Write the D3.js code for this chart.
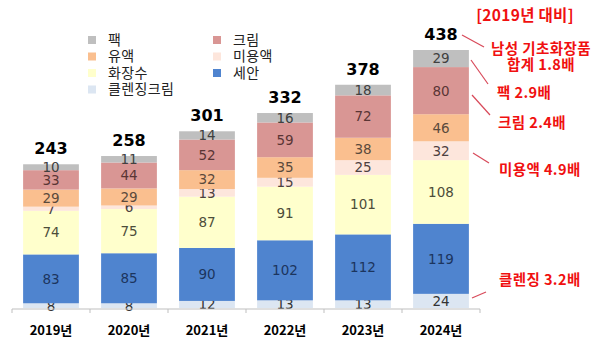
<!DOCTYPE html>
<html><head><meta charset="utf-8">
<script src="https://cdn.jsdelivr.net/npm/d3@7/dist/d3.min.js"></script>
<style>body{margin:0;background:#fff}svg{display:block}</style>
</head><body><svg id="c" width="600" height="344"></svg>
<script>
const years = ["2019년","2020년","2021년","2022년","2023년","2024년"];
const totals = [243,258,301,332,378,438];
const seriesNames = ["클렌징크림","세안","화장수","미용액","유액","크림","팩"];
const cleansing = [8,8,12,13,13,24];
const wash = [83,85,90,102,112,119];
const toner = [74,75,87,91,101,108];
const serum = [7,6,13,15,25,32];
const emulsion = [29,29,32,35,38,46];
const cream = [33,44,52,59,72,80];
const pack = [10,11,14,16,18,29];
const seriesValues = [cleansing,wash,toner,serum,emulsion,cream,pack];
const colors = ["#dce6f2","#4f84cf","#ffffcc","#fde6dc","#fabf8f","#d99694","#bfbfbf"];
const labelColors = ["#333333","#1c355e","#4d4d3a","#4d4040","#5a4a3c","#5a3535","#404040"];
const legendOrder = [["팩","크림"],["유액","미용액"],["화장수","세안"],["클렌징크림",null]];
const notes = [
  {lines:["남성 기초화장품","합계 1.8배"], tx:541, ty:[49,65], anchor:"middle", l:[462,35,484,47]},
  {lines:["팩 2.9배"], tx:497, ty:[93], anchor:"start", l:[471,60,488,84]},
  {lines:["크림 2.4배"], tx:498, ty:[123], anchor:"start", l:[472,95,490,115]},
  {lines:["미용액 4.9배"], tx:499, ty:[170], anchor:"start", l:[473,153,489,163]},
  {lines:["클렌징 3.2배"], tx:499, ty:[280], anchor:"start", l:[472,298,486,292]}
];

const svg = d3.select("#c");
const x = d3.scaleBand().domain(years).range([12,480]).paddingInner(0.285).paddingOuter(0.1425);
const y = d3.scaleLinear().domain([0,438]).range([308,50]);

const rows = years.map((yr,i)=>{const r={year:yr}; seriesNames.forEach((s,k)=>r[s]=seriesValues[k][i]); return r;});
const stack = d3.stack().keys(seriesNames)(rows);

const g = svg.append("g");
stack.forEach((layer,k)=>{
  g.selectAll(null).data(layer).enter().append("rect")
    .attr("x",d=>x(d.data.year)).attr("width",x.bandwidth())
    .attr("y",d=>y(d[1])).attr("height",d=>y(d[0])-y(d[1]))
    .attr("fill",colors[k]);
  g.selectAll(null).data(layer).enter().append("text")
    .attr("x",d=>x(d.data.year)+x.bandwidth()/2)
    .attr("y",d=>(y(d[0])+y(d[1]))/2)
    .attr("dy","0.36em").attr("text-anchor","middle")
    .attr("font-family","DejaVu Sans, Verdana, sans-serif").attr("font-size",13.5)
    .attr("fill",labelColors[k])
    .text(d=>d[1]-d[0]);
});

// totals
g.selectAll(null).data(years).enter().append("text")
  .attr("x",d=>x(d)+x.bandwidth()/2)
  .attr("y",(d,i)=>y(d3.sum(seriesValues,s=>s[i]))-10)
  .attr("text-anchor","middle").attr("font-family","DejaVu Sans, Verdana, sans-serif")
  .attr("font-weight","bold").attr("font-size",16).attr("fill","#000")
  .text((d,i)=>totals[i]);

// axis
const ax = svg.append("g").attr("transform","translate(0,309)");
ax.append("line").attr("x1",12).attr("x2",480).attr("stroke","#bfbfbf").attr("stroke-width",1);
const bounds = d3.range(7).map(i=>12+i*x.step());
ax.selectAll(null).data(bounds).enter().append("line")
  .attr("x1",d=>d).attr("x2",d=>d).attr("y1",0).attr("y2",4).attr("stroke","#bfbfbf");
ax.selectAll(null).data(years).enter().append("text")
  .attr("x",d=>x(d)+x.bandwidth()/2).attr("y",26)
  .attr("text-anchor","middle").attr("font-family","Noto Sans CJK KR, sans-serif")
  .attr("font-weight","bold").attr("font-size",13).attr("fill","#000").text(d=>d);

// legend
const lg = svg.append("g");
legendOrder.forEach((row,ri)=>{
  row.forEach((name,ci)=>{
    if(!name) return;
    const k = seriesNames.indexOf(name);
    const lx = ci===0?88:213, ly = 40+ri*16.5;
    lg.append("rect").attr("x",lx).attr("y",ly-4).attr("width",8).attr("height",8).attr("fill",colors[k]);
    lg.append("text").attr("x",lx+20).attr("y",ly).attr("dy","0.35em")
      .attr("font-family","Noto Sans CJK KR, sans-serif").attr("font-size",14)
      .attr("letter-spacing","0.4px")
      .attr("fill","#222").text(name);
  });
});

// annotations
const an = svg.append("g");
an.append("text").attr("x",525).attr("y",21).attr("text-anchor","middle")
  .attr("font-family","Noto Sans CJK KR, sans-serif").attr("font-weight","bold")
  .attr("font-size",15.5).attr("letter-spacing","0.3px").attr("fill","#f01010").text("[2019년 대비]");
notes.forEach(n=>{
  an.append("line").attr("x1",n.l[0]).attr("y1",n.l[1]).attr("x2",n.l[2]).attr("y2",n.l[3])
    .attr("stroke","#d84a5a").attr("stroke-width",1.2);
  n.lines.forEach((t,i)=>{
    an.append("text").attr("x",n.tx).attr("y",n.ty[i]).attr("dy","0.35em")
      .attr("text-anchor",n.anchor).attr("font-family","Noto Sans CJK KR, sans-serif")
      .attr("font-weight","bold").attr("font-size",14.5).attr("letter-spacing","0.4px")
      .attr("fill","#f01010").text(t);
  });
});
</script></body></html>
